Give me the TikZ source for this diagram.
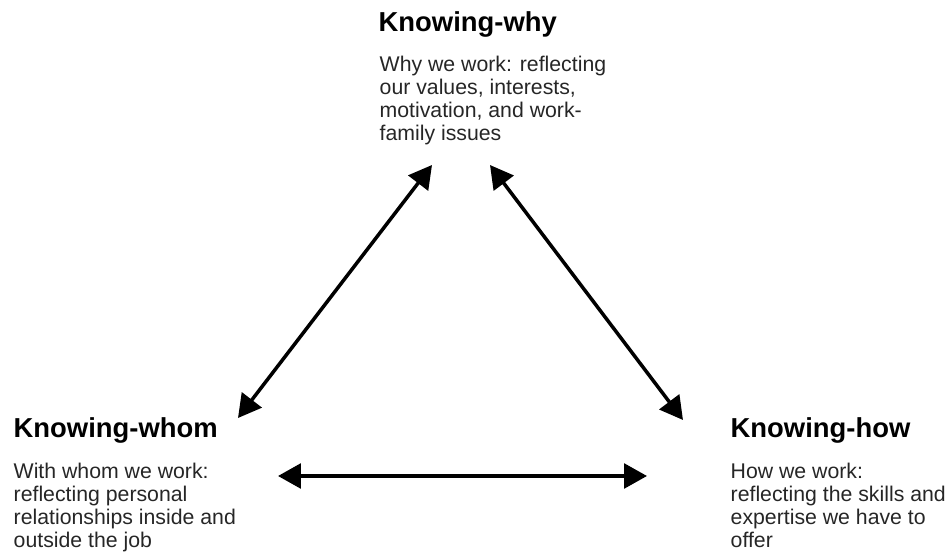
\documentclass[tikz,border=0pt]{standalone}
\usepackage{fontspec}
\setmainfont{Liberation Sans}
\usetikzlibrary{arrows.meta}

\begin{document}
\begin{tikzpicture}[
    title/.style={font=\fontsize{7.8}{9}\selectfont\bfseries, anchor=base west, inner sep=0pt},
    body/.style={font=\fontsize{6.05}{6.55}\selectfont, text=black!85, align=left, anchor=base west, inner sep=0pt},
    link/.style={line width=1pt, {Triangle[length=6.5pt,width=7pt]}-{Triangle[length=6.5pt,width=7pt]}}
]
    \useasboundingbox (0,0) rectangle (9.46,5.60);

    % Top corner (body placed by its last line)
    \node[title] (why) at (3.78,5.28) {Knowing-why};
    \node[body] (whytext) at (3.79,4.19) {Why we work: reflecting\\our values, interests,\\motivation, and work-\\family issues};

    % Bottom left corner
    \node[title] (whom) at (0.13,1.22) {Knowing-whom};
    \node[body] (whomtext) at (0.13,0.12) {With whom we work:\\reflecting personal\\relationships inside and\\outside the job};

    % Bottom right corner
    \node[title] (how) at (7.30,1.22) {Knowing-how};
    \node[body] (howtext) at (7.30,0.12) {How we work:\\reflecting the skills and\\expertise we have to\\offer};

    % Arrow ends
    \coordinate (whyL) at (4.32,3.95);
    \coordinate (whyR) at (4.90,3.95);
    \coordinate (whomU) at (2.38,1.42);
    \coordinate (whomR) at (2.78,0.84);
    \coordinate (howU) at (6.83,1.40);
    \coordinate (howL) at (6.47,0.84);

    % Triangle of links
    \draw[link] (whomU) -- (whyL);
    \draw[link] (whyR) -- (howU);
    \draw[link] (whomR) -- (howL);
\end{tikzpicture}
\end{document}
